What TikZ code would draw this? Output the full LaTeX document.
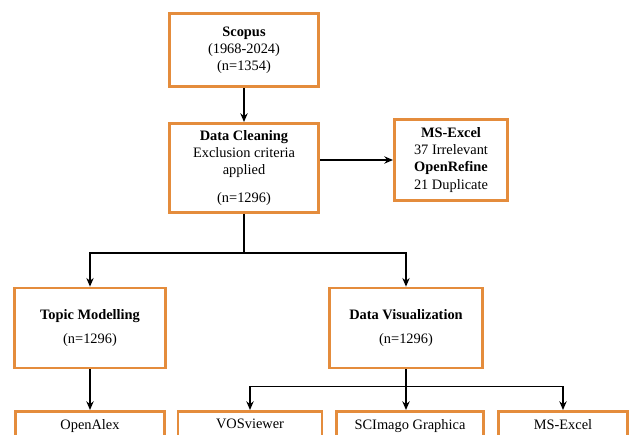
\documentclass[tikz,border=0pt]{standalone}
\usepackage{fontspec}
\setmainfont{Liberation Serif}
\usetikzlibrary{arrows.meta,positioning}
\definecolor{boxorange}{RGB}{228,140,60}

\begin{document}
\begin{tikzpicture}[
    x=0.75pt, y=-0.75pt,
    font=\fontsize{10.8}{12.8}\selectfont,
    stage/.style={rectangle, draw=boxorange, line width=2pt, fill=white, align=center, inner sep=3pt},
    tool/.style={stage, anchor=north, text depth=30pt, inner ysep=6pt},
    arrow/.style={->, >={Stealth[length=6.5pt,width=5.5pt]}, line width=1.1pt}
]
    \useasboundingbox (0,0) rectangle (633,435);
    \clip (0,0) rectangle (633,435);

    % stages
    \node[stage, minimum width=112pt, minimum height=55pt] (scopus) at (244,50)
        {\textbf{Scopus}\\(1968-2024)\\(n=1354)};
    \node[stage, minimum width=112pt, minimum height=67pt] (clean) at (244,168)
        {\textbf{Data Cleaning}\\Exclusion criteria\\applied\\[8pt](n=1296)};
    \node[stage, minimum width=85pt, minimum height=61pt] (excel) at (451,160)
        {\textbf{MS-Excel}\\37 Irrelevant\\\textbf{OpenRefine}\\21 Duplicate};
    \node[stage, minimum width=113pt, minimum height=60pt] (topic) at (90,328)
        {\textbf{Topic Modelling}\\[5pt](n=1296)};
    \node[stage, minimum width=115pt, minimum height=60pt] (vis) at (406,328)
        {\textbf{Data Visualization}\\[5pt](n=1296)};

    % tools
    \node[tool, minimum width=112pt] (openalex) at (90,410) {OpenAlex};
    \node[tool, minimum width=108pt] (vos) at (250,410) {VOSviewer};
    \node[tool, minimum width=110pt] (scimago) at (410,410) {SCImago Graphica};
    \node[tool, minimum width=97pt] (msexcel) at (563,410) {MS-Excel};

    % connectors
    \draw[arrow] (scopus) -- (clean);
    \draw[arrow] (clean.east |- excel.west) -- (excel.west);
    \draw[line width=1.1pt] (clean.south) -- ++(0,39) coordinate (split1);
    \draw[arrow] (split1) -| (topic.north);
    \draw[arrow] (split1) -| (vis.north);
    \draw[arrow] (topic) -- (openalex);
    \draw[line width=1.1pt] (vis.south) -- ++(0,17) coordinate (split2);
    \draw[arrow] (split2) -| (vos.north);
    \draw[arrow] (split2) -- (scimago.north -| split2);
    \draw[arrow] (split2) -| (msexcel.north);
\end{tikzpicture}
\end{document}
